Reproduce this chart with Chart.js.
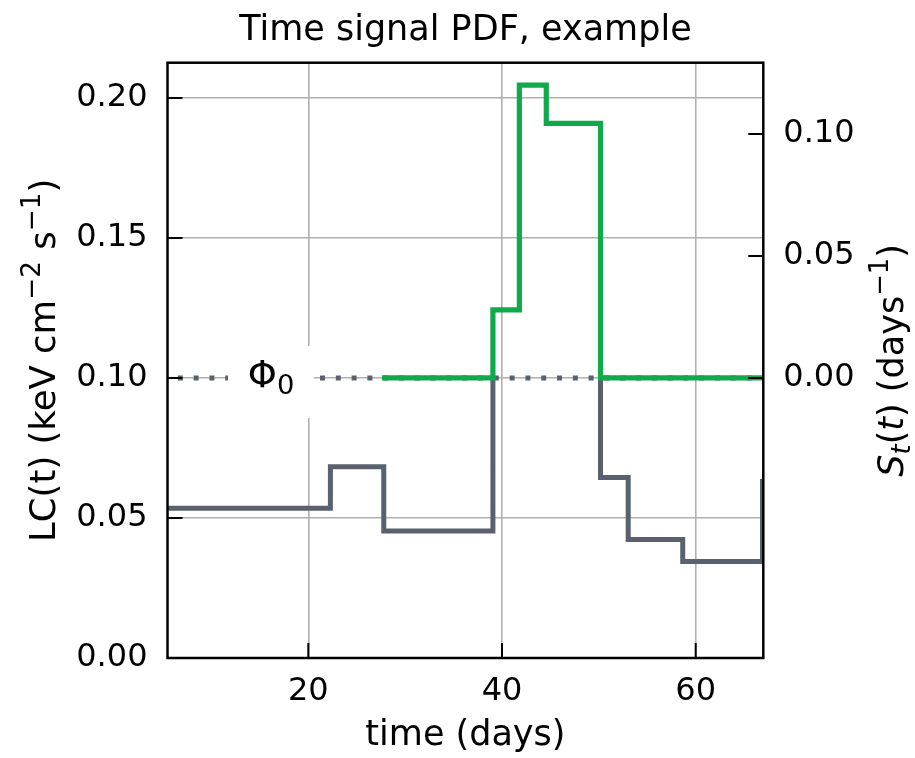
<!DOCTYPE html>
<html>
<head>
<meta charset="utf-8">
<title>Time signal PDF, example</title>
<script src="https://cdn.jsdelivr.net/npm/chart.js@4.4.0/dist/chart.umd.min.js"></script>
<style>
  html, body { margin: 0; padding: 0; background: #fff; }
  canvas { display: block; }
</style>
</head>
<body>
<canvas id="pdfChart" width="915" height="758"></canvas>
<script>
// light curve blocks: edges in days, flux in keV cm-2 s-1 (left axis)
var lcEdges = [0, 22.28, 27.79, 39.06, 50.17, 53.03, 58.66, 66.9, 72];
var lcValues = [0.0535, 0.0683, 0.0454, 0.10, 0.0645, 0.0423, 0.0345, 0.063];

// time signal pdf blocks, days^-1 (right axis)
var pdfEdges = [27.6, 39.06, 41.79, 44.57, 50.17, 72];
var pdfValues = [0, 0.0279, 0.120, 0.1043, 0];

// baseline flux Phi_0
var phi0 = 0.10;
var phiLineX = [0, 72];

var xTicks = [20, 40, 60];
var leftTicks = [0, 0.05, 0.10, 0.15, 0.20];
var rightTicks = [0, 0.05, 0.10];

var lcColor = "#59616f";
var pdfColor = "#10aa4b";
var gridColor = "#b0b0b0";
var fontName = "'DejaVu Sans'";

function stepPoints(edges, values) {
  var pts = [];
  for (var i = 0; i < values.length; i++) {
    pts.push({ x: edges[i], y: values[i] });
    pts.push({ x: edges[i + 1], y: values[i] });
  }
  return pts;
}

// draws text with sub/superscripts, baseline at y
function drawRich(ctx, parts, x, y, size, align) {
  var pieces = parts.map(function (p) {
    var s = p.sup || p.sub ? size * 0.74 : size;
    var font = (p.italic ? "italic " : "") + s + "px " + fontName;
    ctx.font = font;
    return {
      t: p.t,
      font: font,
      w: ctx.measureText(p.t).width,
      dy: p.sup ? -size * 0.42 : p.sub ? size * 0.2 : 0,
    };
  });
  var total = pieces.reduce(function (s, p) { return s + p.w; }, 0);
  var cx = align === "center" ? x - total / 2 : x;
  ctx.textAlign = "left";
  ctx.textBaseline = "alphabetic";
  pieces.forEach(function (p) {
    ctx.font = p.font;
    ctx.fillText(p.t, cx, y + p.dy);
    cx += p.w;
  });
}

var decorations = {
  id: "decorations",
  afterDatasetsDraw: function (chart) {
    var ctx = chart.ctx;
    var a = chart.chartArea;
    var sx = chart.scales.x, sy = chart.scales.y, sy2 = chart.scales.y2;
    ctx.save();

    // Phi_0 label with white box
    var px = sx.getPixelForValue(16.15);
    var py = sy.getPixelForValue(phi0);
    ctx.fillStyle = "#fff";
    ctx.fillRect(px - 43, py - 32, 86, 72);
    ctx.fillStyle = "#000";
    drawRich(ctx, [{ t: "\u03A6" }, { t: "0", sub: true }], px, py + 9, 37, "center");

    // inward ticks
    ctx.strokeStyle = "#000";
    ctx.lineWidth = 2;
    ctx.beginPath();
    xTicks.forEach(function (v) {
      var p = sx.getPixelForValue(v);
      ctx.moveTo(p, a.bottom);
      ctx.lineTo(p, a.bottom - 15);
    });
    leftTicks.forEach(function (v) {
      var p = sy.getPixelForValue(v);
      ctx.moveTo(a.left, p);
      ctx.lineTo(a.left + 15, p);
    });
    rightTicks.forEach(function (v) {
      var p = sy2.getPixelForValue(v);
      ctx.moveTo(a.right, p);
      ctx.lineTo(a.right - 15, p);
    });
    ctx.stroke();

    // frame
    ctx.lineWidth = 2.5;
    ctx.strokeRect(a.left, a.top, a.right - a.left, a.bottom - a.top);
    ctx.restore();
  },
  afterDraw: function (chart) {
    var ctx = chart.ctx;
    var a = chart.chartArea;
    var midX = (a.left + a.right) / 2;
    var midY = (a.top + a.bottom) / 2;
    ctx.save();
    ctx.fillStyle = "#000";
    drawRich(ctx, [{ t: "Time signal PDF, example" }], midX, 40, 35, "center");
    drawRich(ctx, [{ t: "time (days)" }], midX, 745, 35, "center");

    ctx.save();
    ctx.translate(55, midY);
    ctx.rotate(-Math.PI / 2);
    drawRich(ctx, [
      { t: "LC(t) (keV cm" }, { t: "\u22122", sup: true },
      { t: " s" }, { t: "\u22121", sup: true }, { t: ")" }
    ], 0, 0, 35.5, "center");
    ctx.restore();

    ctx.save();
    ctx.translate(903, midY);
    ctx.rotate(-Math.PI / 2);
    drawRich(ctx, [
      { t: "S", italic: true }, { t: "t", italic: true, sub: true },
      { t: "(" }, { t: "t", italic: true }, { t: ") (days" },
      { t: "\u22121", sup: true }, { t: ")" }
    ], 0, 0, 35, "center");
    ctx.restore();

    ctx.restore();
  },
};

function setTicks(list) {
  return function (scale) {
    scale.ticks = list.map(function (v) { return { value: v }; });
  };
}

var tickFont = { family: fontName, size: 32 };

new Chart(document.getElementById("pdfChart"), {
  type: "line",
  data: {
    datasets: [
      {
        label: "S_t",
        data: stepPoints(pdfEdges, pdfValues),
        yAxisID: "y2",
        borderColor: pdfColor,
        borderWidth: 5.2,
        borderJoinStyle: "miter",
        pointRadius: 0,
        clip: 0,
        order: 1,
      },
      {
        label: "LC",
        data: stepPoints(lcEdges, lcValues),
        yAxisID: "y",
        borderColor: lcColor,
        borderWidth: 5,
        borderJoinStyle: "miter",
        pointRadius: 0,
        clip: 0,
        order: 2,
        segment: {
          borderColor: function (c) {
            if (c.p0.parsed.y === phi0 && c.p1.parsed.y === phi0) return "rgba(0,0,0,0)";
            return undefined;
          },
        },
      },
      {
        label: "phi0",
        data: phiLineX.map(function (x) { return { x: x, y: phi0 }; }),
        yAxisID: "y",
        borderColor: lcColor,
        borderWidth: 5,
        borderDash: [5, 10.8],
        borderCapStyle: "butt",
        pointRadius: 0,
        clip: 0,
        order: 3,
      },
    ],
  },
  options: {
    responsive: false,
    animation: false,
    devicePixelRatio: 1,
    layout: { padding: { top: 62.7, left: 0, right: 0, bottom: 0 } },
    plugins: {
      legend: { display: false },
      tooltip: { enabled: false },
      title: { display: false },
    },
    scales: {
      x: {
        type: "linear",
        position: "bottom",
        min: 5.46,
        max: 66.98,
        afterBuildTicks: setTicks(xTicks),
        afterFit: function (s) { s.height = 100; },
        grid: { color: gridColor, lineWidth: 1.6, drawTicks: false },
        border: { display: false },
        ticks: {
          color: "#000",
          font: tickFont,
          padding: 14,
          maxRotation: 0,
          autoSkip: false,
          callback: function (v) { return String(v); },
        },
      },
      y: {
        type: "linear",
        position: "left",
        min: 0,
        max: 0.2126,
        afterBuildTicks: setTicks(leftTicks),
        afterFit: function (s) { s.width = 167.5; },
        grid: { color: gridColor, lineWidth: 1.6, drawTicks: false },
        border: { display: false },
        ticks: {
          color: "#000",
          font: tickFont,
          padding: 20,
          callback: function (v) { return v.toFixed(2); },
        },
      },
      y2: {
        type: "linear",
        position: "right",
        min: -0.1148,
        max: 0.1292,
        afterBuildTicks: setTicks(rightTicks),
        afterFit: function (s) { s.width = 151.7; },
        grid: { display: false, drawTicks: false },
        border: { display: false },
        ticks: {
          color: "#000",
          font: tickFont,
          padding: 20,
          callback: function (v) { return v.toFixed(2); },
        },
      },
    },
  },
  plugins: [decorations],
});
</script>
</body>
</html>
